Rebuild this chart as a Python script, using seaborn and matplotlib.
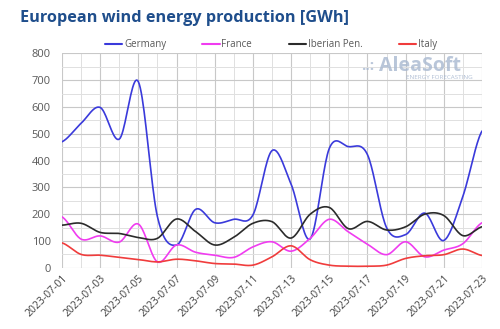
import numpy as np
import pandas as pd
import matplotlib
matplotlib.use("Agg")
import matplotlib.pyplot as plt
import matplotlib.dates as mdates
from matplotlib.ticker import MultipleLocator
import seaborn as sns

dates = pd.date_range("2023-07-01", "2023-07-23", freq="D")
germany = [470, 539, 598, 480, 694, 190, 85, 218, 168, 181, 197, 437, 312, 108, 445,
           452, 422, 150, 124, 204, 102, 267, 510]
france = [190, 107, 119, 96, 163, 22, 85, 58, 47, 39, 78, 97, 62, 110, 181,
          134, 88, 49, 97, 41, 66, 90, 168]
iberian = [159, 166, 132, 128, 113, 110, 182, 135, 85, 114, 166, 172, 111, 200, 225,
           146, 173, 141, 153, 200, 195, 120, 153]
italy = [93, 50, 47, 39, 31, 22, 32, 26, 16, 14, 10, 41, 82, 30, 10,
         6, 6, 10, 35, 45, 49, 70, 46]

series = {"Germany": germany, "France": france, "Iberian Pen.": iberian, "Italy": italy}
colors = {"Germany": "#3A3ADB", "France": "#F03CF0", "Iberian Pen.": "#2B2B2B", "Italy": "#F03C3C"}


def smooth(xs, ys, n=20):
    # Catmull-Rom spline through the daily points (display smoothing only)
    xs = np.asarray(xs, float)
    ys = np.asarray(ys, float)
    px = np.concatenate([[2 * xs[0] - xs[1]], xs, [2 * xs[-1] - xs[-2]]])
    py = np.concatenate([[ys[0]], ys, [ys[-1]]])
    ox, oy = [], []
    t = np.linspace(0, 1, n, endpoint=False)
    for i in range(1, len(px) - 2):
        for P, out in ((px, ox), (py, oy)):
            p0, p1, p2, p3 = P[i - 1], P[i], P[i + 1], P[i + 2]
            out.extend(0.5 * ((2 * p1) + (-p0 + p2) * t + (2 * p0 - 5 * p1 + 4 * p2 - p3) * t ** 2
                              + (-p0 + 3 * p1 - 3 * p2 + p3) * t ** 3))
    ox.append(xs[-1]); oy.append(ys[-1])
    return np.array(ox), np.array(oy)


xnum = mdates.date2num(dates)
frames = []
for name, vals in series.items():
    sx, sy = smooth(xnum, vals)
    frames.append(pd.DataFrame({"date": mdates.num2date(sx), "value": sy, "series": name}))
df = pd.concat(frames, ignore_index=True)
df["date"] = pd.to_datetime(df["date"]).dt.tz_localize(None)

sns.set_theme(style="white")
plt.rcParams["font.family"] = ["Open Sans", "DejaVu Sans"]

fig = plt.figure(figsize=(5, 3.29), dpi=100)
ax = fig.add_axes([0.124, 0.186, 0.84, 0.652])

sns.lineplot(data=df, x="date", y="value", hue="series", palette=colors, ax=ax,
             linewidth=1.2, sort=False, estimator=None, legend=True)

ax.set_xlim(dates[0], dates[-1])
ax.set_ylim(0, 800)
ax.xaxis.set_major_locator(mdates.DayLocator(interval=2))
ax.xaxis.set_minor_locator(mdates.DayLocator())
ax.xaxis.set_major_formatter(mdates.DateFormatter("%Y-%m-%d"))
ax.yaxis.set_major_locator(MultipleLocator(100))
ax.yaxis.set_minor_locator(MultipleLocator(50))
ax.grid(which="major", color="#C8C8C8", linewidth=0.8)
ax.grid(which="minor", color="#E0E0E0", linewidth=0.7)
ax.set_axisbelow(True)
for s in ax.spines.values():
    s.set_visible(False)
ax.tick_params(axis="x", which="major", length=3, color="#BFBFBF", labelsize=7.5,
               labelcolor="#404040", rotation=45, pad=1)
ax.tick_params(axis="y", which="major", length=0, labelsize=8, labelcolor="#595959", pad=8)
ax.tick_params(which="minor", length=0)
for lab in ax.get_xticklabels():
    lab.set_ha("right")
    lab.set_rotation_mode("anchor")
ax.set_xlabel("")
ax.set_ylabel("")

leg = ax.legend(loc="lower left", bbox_to_anchor=(0.093, 0.995), ncol=4, frameon=False,
                fontsize=7, handlelength=1.8, handletextpad=0.15, columnspacing=3.75,
                borderaxespad=0, labelcolor="#595959")
for h in leg.get_lines():
    h.set_linewidth(1.5)

fig.text(0.04, 0.945, "European wind energy production [GWh]", fontsize=11.7,
         fontweight="bold", color="#1F4E8C", va="center", ha="left")

# watermark
fig.text(0.758, 0.80, "AleaSoft", fontsize=14, fontweight="bold", color="#A8B8D0",
         alpha=0.8, ha="left", va="center")
fig.text(0.722, 0.80, "..:", fontsize=11, fontweight="bold", color="#A8B8D0",
         alpha=0.8, ha="left", va="center")
fig.text(0.946, 0.765, "ENERGY FORECASTING", fontsize=4.5, color="#A8B8D0",
         alpha=0.9, ha="right", va="center")

fig.savefig("out.png", dpi=100, facecolor="white")
